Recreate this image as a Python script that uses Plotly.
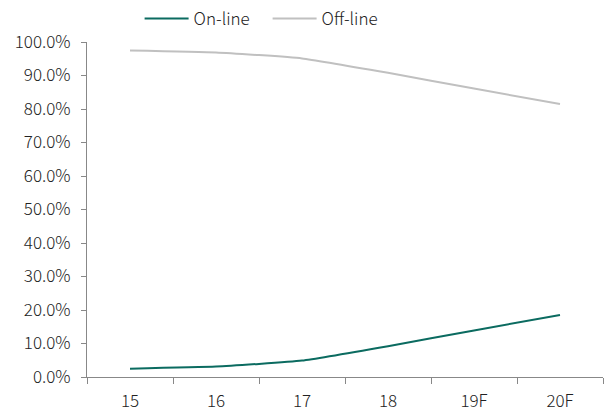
import plotly.graph_objects as go

categories = ["15", "16", "17", "18", "19F", "20F"]
online = [2.5, 3.1, 4.9, 9.2, 13.9, 18.5]
offline = [97.5, 96.9, 95.1, 90.8, 86.1, 81.5]
yticks = [0, 10, 20, 30, 40, 50, 60, 70, 80, 90, 100]
yticklabels = [f"{v:.1f}%" for v in yticks]

font_family = "Noto Sans CJK KR, Noto Sans, sans-serif"

fig = go.Figure()
fig.add_trace(go.Scatter(x=categories, y=online, name="On-line", mode="lines",
                         line=dict(color="#0b6b60", width=2, shape="spline", smoothing=0.4)))
fig.add_trace(go.Scatter(x=categories, y=offline, name="Off-line", mode="lines",
                         line=dict(color="#c0c0c0", width=2, shape="spline", smoothing=0.4)))

fig.update_layout(
    width=615, height=412,
    margin=dict(l=87, r=12, t=42, b=35, autoexpand=False),
    paper_bgcolor="white", plot_bgcolor="white",
    font=dict(family=font_family, size=17, color="#222", weight=300),
    legend=dict(orientation="h", x=0.35, xanchor="center", y=1.015, yanchor="bottom",
                font=dict(size=17), itemwidth=44, entrywidth=69,
                bgcolor="rgba(0,0,0,0)"),
    xaxis=dict(type="category", showline=True, linecolor="#888", linewidth=1,
               ticks="outside", ticklen=6, tickcolor="#888", tickson="boundaries",
               ticklabelstandoff=9,
               showgrid=False, zeroline=False, range=[-0.5, 5.5]),
    yaxis=dict(range=[0, 100], tickvals=yticks, ticktext=yticklabels,
               showline=True, linecolor="#888", linewidth=1,
               ticks="outside", ticklen=5, tickcolor="#888", ticklabelstandoff=7,
               showgrid=False, zeroline=False),
)

fig.write_html("out.html")
